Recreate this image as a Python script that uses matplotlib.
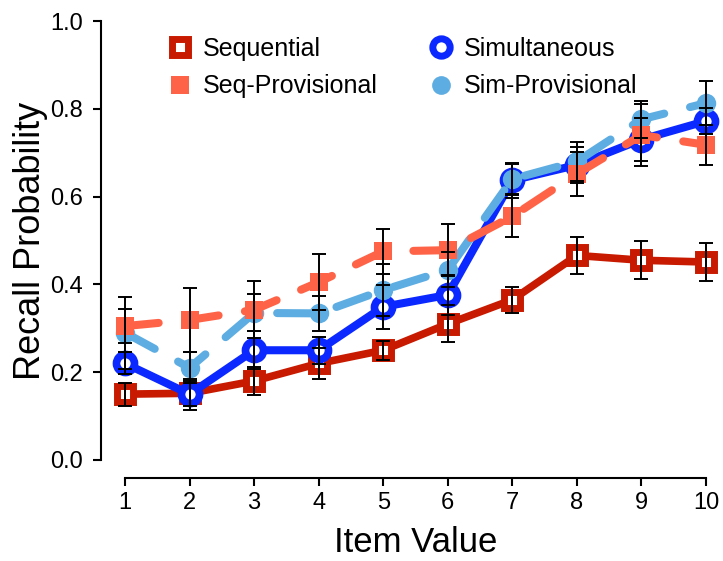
import numpy as np
import matplotlib
matplotlib.use("Agg")
import matplotlib.pyplot as plt
from matplotlib.lines import Line2D

plt.rcParams['font.family'] = ['Liberation Sans', 'DejaVu Sans']

item_value = [1, 2, 3, 4, 5, 6, 7, 8, 9, 10]

seq = [0.150, 0.152, 0.180, 0.220, 0.250, 0.310, 0.365, 0.466, 0.455, 0.451]
seq_err = [0.026, 0.028, 0.032, 0.036, 0.022, 0.042, 0.030, 0.042, 0.043, 0.043]

sim = [0.220, 0.150, 0.250, 0.250, 0.349, 0.376, 0.637, 0.672, 0.730, 0.772]
sim_err = [0.025, 0.035, 0.043, 0.031, 0.050, 0.045, 0.040, 0.040, 0.049, 0.030]

seq_prov = [0.305, 0.319, 0.342, 0.405, 0.475, 0.478, 0.555, 0.652, 0.740, 0.718]
seq_prov_err = [0.038, 0.073, 0.065, 0.064, 0.052, 0.059, 0.048, 0.050, 0.070, 0.045]

sim_prov = [0.290, 0.210, 0.335, 0.334, 0.387, 0.433, 0.640, 0.680, 0.776, 0.813]
sim_prov_err = [0.082, 0.035, 0.042, 0.040, 0.060, 0.040, 0.035, 0.045, 0.042, 0.050]

labels = ["Sequential", "Seq-Provisional", "Simultaneous", "Sim-Provisional"]

c_seq = "#C81A00"
c_seq_prov = "#FF6347"
c_sim = "#0A28FF"
c_sim_prov = "#5DADE2"

fig = plt.figure(figsize=(7.23, 5.61), dpi=100)
ax = fig.add_axes([125 / 723, 101 / 561, 581 / 723, 439 / 561])

# lines + markers (order matters for overlap)
ax.plot(item_value, seq, color=c_seq, lw=5.5, marker="s", ms=11, mew=5,
        mfc="white", mec=c_seq, solid_capstyle="round", clip_on=False, zorder=2)
ax.plot(item_value, sim, color=c_sim, lw=5.8, marker="o", ms=13, mew=5.5,
        mfc="white", mec=c_sim, solid_capstyle="round", clip_on=False, zorder=3)
ax.plot(item_value, sim_prov, color=c_sim_prov, lw=5.8, marker="o", ms=14,
        mew=0, dashes=(4.2, 3.3), dash_capstyle="round", clip_on=False, zorder=4)
ax.plot(item_value, seq_prov, color=c_seq_prov, lw=5.8, marker="s", ms=13,
        mew=0, dashes=(4.2, 3.3), dash_capstyle="round", clip_on=False, zorder=5)

# error bars on top
for vals, errs in [(seq, seq_err), (sim, sim_err), (seq_prov, seq_prov_err), (sim_prov, sim_prov_err)]:
    ax.errorbar(item_value, vals, yerr=errs, fmt="none", ecolor="black",
                elinewidth=1.4, capsize=5, capthick=1.4, clip_on=False, zorder=6)

ax.set_xlim(1, 10)
ax.set_ylim(0, 1)
ax.set_xticks(item_value)
ax.set_yticks([0.0, 0.2, 0.4, 0.6, 0.8, 1.0])
ax.set_yticklabels(["0.0", "0.2", "0.4", "0.6", "0.8", "1.0"])

for s in ["top", "right"]:
    ax.spines[s].set_visible(False)
ax.spines["left"].set_position(("outward", 17))
ax.spines["bottom"].set_position(("outward", 13))
ax.spines["left"].set_linewidth(1.5)
ax.spines["bottom"].set_linewidth(1.5)
ax.tick_params(direction="out", length=6, width=1.5, labelsize=17, pad=4)
ax.tick_params(axis="y", pad=7)

ax.set_xlabel("Item Value", fontsize=25, labelpad=9)
ax.set_ylabel("Recall Probability", fontsize=26, labelpad=2)

handles = [
    Line2D([], [], ls="none", marker="s", ms=11, mew=5, mfc="white", mec=c_seq),
    Line2D([], [], ls="none", marker="s", ms=12.5, mew=0, color=c_seq_prov),
    Line2D([], [], ls="none", marker="o", ms=12.5, mew=5, mfc="white", mec=c_sim),
    Line2D([], [], ls="none", marker="o", ms=13.5, mew=0, color=c_sim_prov),
]
ax.legend(handles, labels, ncol=2, frameon=False, fontsize=18,
          loc="upper left", bbox_to_anchor=(0.035, 1.01), handletextpad=0.3,
          columnspacing=1.95, labelspacing=0.55, handlelength=1.2,
          borderpad=0.3)

fig.savefig("out.png", dpi=100)
